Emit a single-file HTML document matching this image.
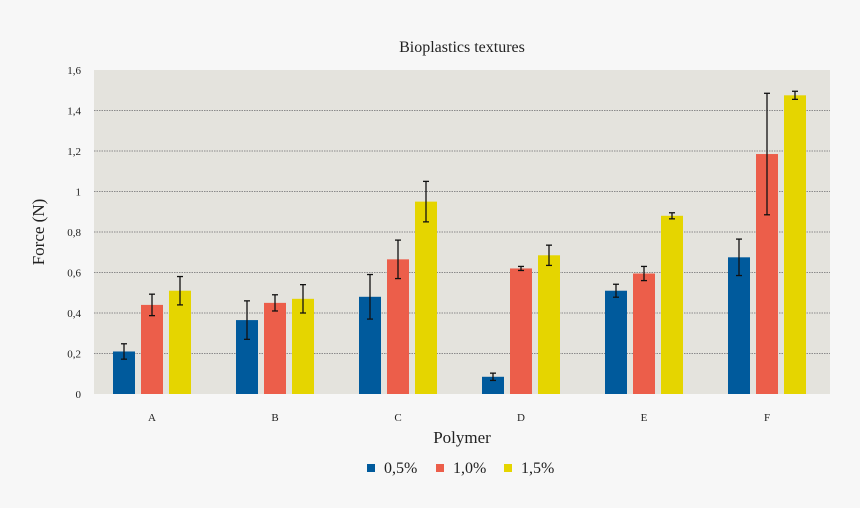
<!DOCTYPE html>
<html><head><meta charset="utf-8"><style>
body{margin:0;background:#f7f7f7;}
svg{display:block;font-family:"Liberation Serif",serif;}
</style></head><body>
<svg id="chart" width="860" height="508">
<rect width="860" height="508" fill="#f7f7f7"/>
<text x="462" y="52" text-anchor="middle" font-size="16" fill="#222">Bioplastics textures</text>
<rect x="94" y="70" width="736" height="324" fill="#e4e3dd"/>
<g id="grid"></g>
<g id="yticks"></g>
<g id="xticks"></g>
<g id="bars"></g>
<text x="44" y="232" text-anchor="middle" font-size="17" fill="#222" transform="rotate(-90 44 232)">Force (N)</text>
<text x="462" y="443" text-anchor="middle" font-size="17" fill="#222">Polymer</text>
<g id="legend"></g>
</svg>
<script>
const categories = ["A","B","C","D","E","F"];
const seriesNames = ["0,5%","1,0%","1,5%"];
const s05 = [0.21,0.365,0.48,0.085,0.51,0.675];
const s10 = [0.44,0.45,0.665,0.62,0.595,1.185];
const s15 = [0.51,0.47,0.95,0.685,0.88,1.475];
const e05 = [0.038,0.095,0.11,0.018,0.032,0.09];
const e10 = [0.053,0.04,0.095,0.01,0.035,0.30];
const e15 = [0.07,0.07,0.10,0.05,0.015,0.02];
const yTicks = [0,0.2,0.4,0.6,0.8,1,1.2,1.4,1.6];
const yTickLabels = ["0","0,2","0,4","0,6","0,8","1","1,2","1,4","1,6"];

const colors = ["#005a9c","#ec5e4a","#e5d500"];
const NS = "http://www.w3.org/2000/svg";
const y = v => 394 - v * 202.5;
const xc = i => 152 + i * 123;
function mk(tag, attrs, parent){const el=document.createElementNS(NS,tag);for(const k in attrs)el.setAttribute(k,attrs[k]);parent.appendChild(el);return el;}
const grid=document.getElementById('grid'), yt=document.getElementById('yticks'), xt=document.getElementById('xticks'), bars=document.getElementById('bars'), lg=document.getElementById('legend');
yTicks.forEach((t,i)=>{
  if(t>0 && t<1.6){const l=mk('line',{x1:94,x2:830,y1:y(t),y2:y(t),stroke:'#8a8a8a','stroke-width':1,'stroke-dasharray':'1.5,1'},grid);
    
    }
  const tx=mk('text',{x:81,y:y(t)+4,'text-anchor':'end','font-size':11,fill:'#222'},yt);
  tx.textContent=yTickLabels[i];
  
  
});
categories.forEach((c,i)=>{
  const tx=mk('text',{x:xc(i),y:421,'text-anchor':'middle','font-size':11,fill:'#222'},xt);
  tx.textContent=c;
  
  
});
const series=[s05,s10,s15], errs=[e05,e10,e15];
series.forEach((s,k)=>{
  s.forEach((v,i)=>{
    const cx=xc(i)+(k-1)*28;
    const r=mk('rect',{x:cx-11,y:y(v),width:22,height:394-y(v),fill:colors[k]},bars);
    
    
    const e=errs[k][i], g=mk('g',{stroke:'#111','stroke-width':1.3},bars);
    
    
    mk('line',{x1:cx,x2:cx,y1:y(v+e),y2:y(v-e)},g);
    mk('line',{x1:cx-3,x2:cx+3,y1:y(v+e),y2:y(v+e)},g);
    mk('line',{x1:cx-3,x2:cx+3,y1:y(v-e),y2:y(v-e)},g);
  });
});
const lx=[367,436,504];
seriesNames.forEach((n,k)=>{
  const r=mk('rect',{x:lx[k],y:464,width:8,height:8,fill:colors[k]},lg);
  
  
  const t=mk('text',{x:lx[k]+17,y:473,'font-size':16,fill:'#222'},lg);
  t.textContent=n;
  
  
});
</script>
</body></html>
